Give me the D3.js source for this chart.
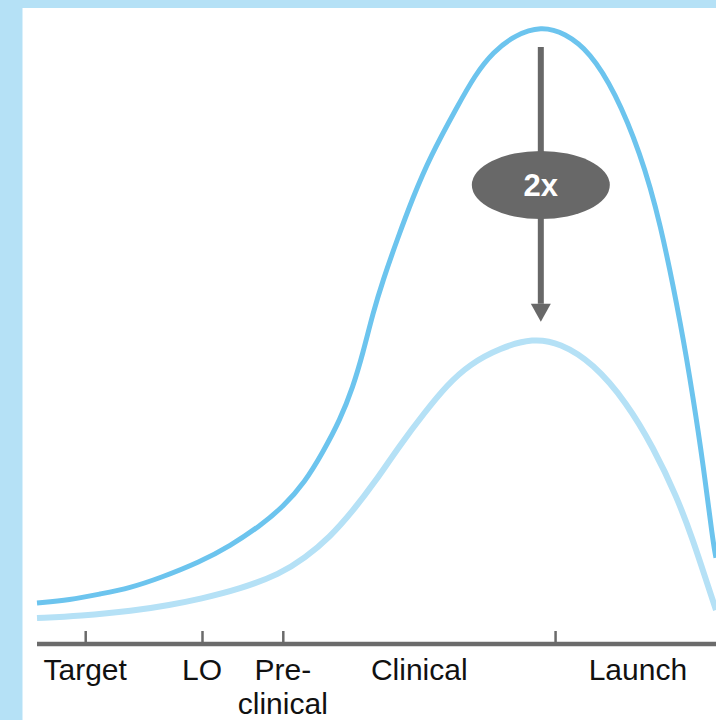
<!DOCTYPE html>
<html>
<head>
<meta charset="utf-8">
<script src="https://cdn.jsdelivr.net/npm/d3@7"></script>
<style>
  html, body { margin: 0; padding: 0; background: #b5e1f6; }
  svg { display: block; }
</style>
</head>
<body>
<svg id="chart" width="716" height="720"></svg>
<script>
// ---- data ----
const highX = [0, 4.86, 9.28, 13.70, 18.11, 24.01, 28.42, 32.84, 36.23, 39.47, 42.12, 44.62, 46.54, 48.01, 49.48, 50.96, 53.02, 55.38, 57.88, 61.86, 64.51, 67.16, 70.40, 74.23, 77.76, 81.44, 85.13, 88.81, 91.75, 94.99, 96.61, 98.09, 99.56, 100];
const highY = [6.66, 7.14, 8.12, 9.09, 10.71, 13.31, 15.91, 19.16, 22.24, 26.30, 31.17, 36.36, 41.72, 47.24, 53.73, 59.09, 65.58, 72.56, 79.06, 87.18, 92.37, 96.10, 98.86, 100.3, 99.19, 96.10, 89.61, 79.87, 68.83, 50.97, 40.10, 29.38, 16.5, 14.0];
const lowX = [0, 6.33, 14.14, 19.59, 24.01, 29.90, 35.79, 39.47, 43.15, 46.39, 49.78, 53.46, 57.14, 60.38, 63.77, 68.19, 73.05, 77.03, 81.89, 86.89, 90.72, 94.26, 96.61, 98.68, 100];
const lowY = [4.22, 4.55, 5.36, 6.33, 7.31, 8.93, 11.36, 13.96, 17.37, 21.43, 26.30, 32.31, 37.66, 42.05, 45.45, 48.05, 49.65, 48.86, 45.62, 39.12, 31.98, 23.86, 16.88, 9.90, 5.52];
const tickPositions = [7.1, 24.3, 36.2, 76.3];
const stageLabels = ["Target", "LO", "Pre-\nclinical", "Clinical", "Launch"];
const stagePositions = [7.1, 24.3, 36.2, 56.3, 88.5];
const arrowAt = 74.2;
const arrowFrom = 100, arrowTo = 49.4;
const arrowLabel = "2x";

// ---- layout ----
const W = 716, H = 720;
const svg = d3.select("#chart");
svg.append("rect").attr("x", 22.5).attr("y", 8).attr("width", W - 22.5).attr("height", H - 8).attr("fill", "#ffffff");

const x = d3.scaleLinear().domain([0, 100]).range([37, 716]);
const y = d3.scaleLinear().domain([0, 100]).range([644, 28]);

const line = d3.line().x(d => x(d[0])).y(d => y(d[1])).curve(d3.curveBasis);

svg.append("clipPath").attr("id", "clip").append("rect")
  .attr("x", 22.5).attr("y", 8).attr("width", W - 22.5).attr("height", H - 8);

const g = svg.append("g").attr("clip-path", "url(#clip)");

g.append("path")
  .datum(lowX.map((v, i) => [v, lowY[i]]))
  .attr("d", line).attr("fill", "none")
  .attr("stroke", "#b5e1f6").attr("stroke-width", 6);

g.append("path")
  .datum(highX.map((v, i) => [v, highY[i]]))
  .attr("d", line).attr("fill", "none")
  .attr("stroke", "#6cc4ee").attr("stroke-width", 5);

// axis
const axisG = svg.append("g").attr("transform", `translate(0,${y(0)})`);
const axis = d3.axisTop(x).tickValues(tickPositions).tickSize(13).tickFormat("");
axisG.call(axis);
axisG.select(".domain").remove();
axisG.selectAll(".tick line").attr("stroke", "#6b6b6b").attr("stroke-width", 2.5);
axisG.append("line").attr("x1", x(0)).attr("x2", W).attr("y1", 0).attr("y2", 0)
  .attr("stroke", "#6b6b6b").attr("stroke-width", 4.5);

// stage labels
stageLabels.forEach((lab, i) => {
  const t = svg.append("text")
    .attr("x", x(stagePositions[i]))
    .attr("y", 680)
    .attr("text-anchor", "middle")
    .attr("font-family", "Liberation Sans, Arial, sans-serif")
    .attr("font-size", 30)
    .attr("fill", "#111");
  lab.split("\n").forEach((s, j) => {
    t.append("tspan").attr("x", x(stagePositions[i])).attr("dy", j === 0 ? 0 : 34).text(s);
  });
});

// arrow
const ax = x(arrowAt);
const arrowColor = "#686868";
svg.append("line").attr("x1", ax).attr("x2", ax)
  .attr("y1", y(arrowFrom) + 19).attr("y2", y(arrowTo) - 36)
  .attr("stroke", arrowColor).attr("stroke-width", 6);
const headTop = y(arrowTo) - 36, headTip = y(arrowTo) - 18;
svg.append("path")
  .attr("d", `M${ax - 10},${headTop} L${ax + 10},${headTop} L${ax},${headTip} Z`)
  .attr("fill", arrowColor);
const ey = 185;
svg.append("ellipse").attr("cx", ax).attr("cy", ey).attr("rx", 69).attr("ry", 34).attr("fill", arrowColor);
svg.append("text").attr("x", ax).attr("y", ey + 11)
  .attr("text-anchor", "middle")
  .attr("font-family", "Liberation Sans, Arial, sans-serif")
  .attr("font-weight", "bold").attr("font-size", 31)
  .attr("fill", "#ffffff").text(arrowLabel);
</script>
</body>
</html>
